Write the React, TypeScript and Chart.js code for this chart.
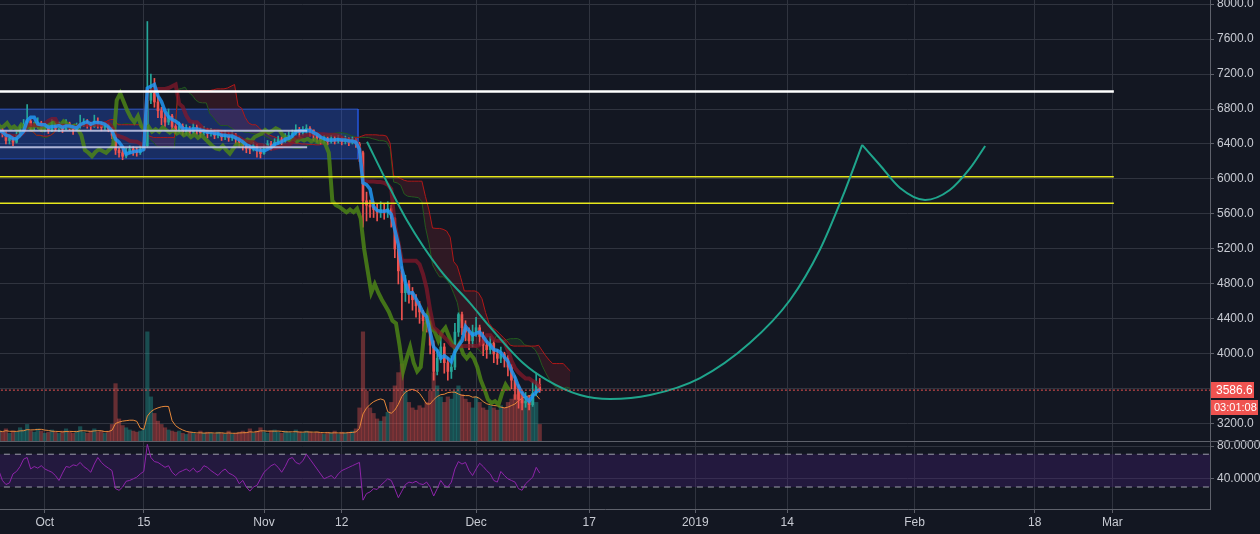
import React, { useEffect, useRef } from 'react';
import { Chart, registerables } from 'chart.js';

Chart.register(...registerables);

// ---- time: days counted from 1 Oct 2018, 12h candles ----
const firstDay = -6.5;
const candleStep = 0.5;
const ichimokuShift = (26 * 4) / 24; // 26 four-hour periods

const closes = [
  6560, 6520, 6440, 6470, 6420, 6500, 6590, 6620, 6660, 6590,
  6600, 6640, 6580, 6600, 6560, 6620, 6580, 6600, 6570, 6630,
  6590, 6560, 6600, 6620, 6650, 6630, 6600, 6660, 6630, 6590,
  6610, 6570, 6500, 6330, 6300, 6260, 6310, 6340, 6320, 6300,
  6340, 6380, 6900, 6980, 6880, 6780, 6700, 6650, 6720, 6600,
  6560, 6600, 6540, 6570, 6540, 6590, 6560, 6530, 6560, 6520,
  6540, 6500, 6520, 6480, 6510, 6470, 6500, 6460, 6420, 6380,
  6350, 6340, 6380, 6330, 6290, 6350, 6400, 6380, 6420, 6450,
  6430, 6480, 6500, 6520, 6560, 6530, 6550, 6580, 6560, 6500,
  6470, 6440, 6460, 6430, 6460, 6440, 6460, 6430, 6450, 6420,
  6440, 6400, 6300, 5750, 5700, 5680, 5650, 5620, 5650, 5620,
  5660, 5550, 5200, 4950, 4700, 4800, 4700, 4620, 4550, 4480,
  4380, 4350, 4100, 3800, 3950, 4080, 3900, 3800, 3850, 4250,
  4450, 4300, 4250, 4150, 4250, 4300, 4200, 4100, 4050, 4120,
  4000, 3950, 4000, 3950, 3850, 3700, 3600, 3480, 3440, 3460,
  3420, 3550, 3650, 3586.6,
];
const highs = [
  6600, 6580, 6540, 6500, 6490, 6540, 6620, 6680, 6850, 6680,
  6650, 6700, 6660, 6640, 6620, 6680, 6640, 6650, 6620, 6680,
  6650, 6610, 6640, 6730, 6690, 6680, 6650, 6730, 6700, 6650,
  6640, 6630, 6590, 6510, 6350, 6340, 6350, 6380, 6370, 6360,
  6380, 6420, 7800, 7200, 7150, 6950, 6820, 6760, 6800, 6740,
  6620, 6650, 6630, 6620, 6600, 6640, 6620, 6590, 6600, 6580,
  6580, 6560, 6560, 6540, 6550, 6530, 6540, 6520, 6480, 6450,
  6400, 6390, 6420, 6400, 6350, 6390, 6440, 6430, 6460, 6490,
  6480, 6520, 6540, 6560, 6620, 6590, 6600, 6620, 6600, 6560,
  6520, 6490, 6500, 6480, 6500, 6490, 6500, 6480, 6490, 6470,
  6480, 6460, 6420, 6320, 5850, 5760, 5740, 5720, 5740, 5720,
  5740, 5700, 5560, 5250, 5000, 4900, 4840, 4760, 4680, 4600,
  4500, 4460, 4380, 4150, 4050, 4200, 4120, 3960, 3980, 4350,
  4470, 4480, 4380, 4300, 4330, 4420, 4330, 4250, 4150, 4200,
  4150, 4050, 4080, 4020, 3980, 3880, 3750, 3650, 3560, 3560,
  3520, 3680, 3780, 3720,
];
const lows = [
  6500, 6480, 6400, 6400, 6380, 6410, 6480, 6560, 6590, 6560,
  6560, 6580, 6540, 6540, 6520, 6540, 6550, 6540, 6530, 6560,
  6560, 6510, 6550, 6580, 6600, 6580, 6560, 6590, 6580, 6550,
  6560, 6540, 6460, 6280, 6250, 6220, 6240, 6290, 6270, 6260,
  6280, 6320, 6360, 6860, 6820, 6700, 6620, 6600, 6620, 6560,
  6520, 6530, 6500, 6510, 6500, 6520, 6510, 6480, 6500, 6470,
  6490, 6460, 6470, 6440, 6450, 6430, 6440, 6400, 6360, 6330,
  6300, 6290, 6320, 6250, 6240, 6280, 6340, 6330, 6360, 6400,
  6390, 6420, 6460, 6480, 6500, 6480, 6500, 6520, 6490, 6440,
  6420, 6400, 6410, 6390, 6410, 6400, 6410, 6390, 6400, 6380,
  6400, 6360, 6200, 5450, 5520, 5560, 5560, 5520, 5560, 5540,
  5560, 5450, 5100, 4800, 4390, 4600, 4580, 4500, 4420, 4350,
  4260, 4250, 4000, 3700, 3760, 3900, 3780, 3700, 3720, 3820,
  4200, 4220, 4150, 4050, 4080, 4200, 4100, 3980, 3950, 4000,
  3900, 3880, 3900, 3850, 3750, 3600, 3480, 3380, 3360, 3390,
  3360, 3400, 3520, 3560,
];
const volumes = [
  90, 80, 110, 70, 90, 80, 120, 100, 150, 90,
  80, 110, 90, 70, 80, 100, 80, 70, 90, 110,
  80, 70, 90, 130, 80, 70, 90, 110, 80, 90,
  70, 90, 150, 520, 200, 140, 120, 100, 90, 80,
  90, 110, 990, 400, 250, 180, 150, 120, 100, 90,
  80, 90, 70, 60, 80, 70, 60, 90, 70, 80,
  70, 60, 80, 70, 60, 90, 60, 70, 80, 90,
  80, 110, 70, 90, 120, 80, 70, 90, 100, 80,
  70, 90, 80, 70, 100, 80, 70, 90, 80, 70,
  80, 70, 60, 80, 70, 90, 60, 80, 70, 80,
  90, 110, 300, 990, 450, 300, 250, 200, 180, 220,
  260, 350, 500, 620, 700, 450, 350, 300, 280, 320,
  300, 350, 450, 620, 500, 400, 350, 400, 380, 450,
  500, 420, 380, 350, 300, 400, 350, 300, 280, 320,
  300, 280, 320, 300, 350, 380, 420, 500, 450, 400,
  380, 420, 350, 150,
];
const rsiValues = [
  50, 38, 33, 35, 46, 49, 55, 64, 66, 52,
  55, 53, 56, 52, 50, 48, 44, 38, 47, 55,
  54, 57, 56, 60, 55, 52, 48, 58, 66, 60,
  56, 53, 50, 28, 26, 30, 37, 38, 40, 42,
  46, 49, 82, 66, 61, 60, 57, 54, 56, 48,
  44, 48, 50, 52, 49, 53, 48, 50, 56, 54,
  50, 47, 44, 49, 52, 47, 45, 42, 34, 38,
  30, 25, 30, 32, 40, 48, 52, 56, 58, 54,
  48, 55, 64, 66, 60, 58, 62, 70, 64, 58,
  52, 46, 40, 42, 44, 40, 46, 50, 52, 54,
  56, 58, 60, 14, 22, 24, 28, 27, 32, 36,
  40, 38, 28, 17, 25, 33, 36, 35, 37, 34,
  33, 36, 30, 19, 28, 38, 32, 30, 36, 52,
  61, 58, 60, 50, 44, 52, 59, 55, 50, 46,
  38, 36, 49, 44, 40, 38, 36, 28, 26, 34,
  38, 42, 54, 47,
];

// x-axis ticks (days from 1 Oct 2018)
const tickDays = [0, 14, 31, 42, 61, 77, 92, 105, 123, 140, 151];
const tickLabels = ['Oct', '15', 'Nov', '12', 'Dec', '17', '2019', '14', 'Feb', '18', 'Mar'];
const priceTicks = [3200, 3600, 4000, 4400, 4800, 5200, 5600, 6000, 6400, 6800, 7200, 7600, 8000];
const rsiTicks = [40, 80];
const rsiBands = [70, 30];

const lastPrice = 3586.6;
const lastPriceLabel = '3586.6';
const countdownLabel = '03:01:08';

// drawings
const whiteLevel = 7000;
const yellowLevels = [6027, 5722];
const levelsEndDay = 151.2;
const boxTop = 6800;
const boxBottom = 6229;
const boxEndDay = 44.3;
const innerLevels = [6552, 6362];
const innerEndDay = 37.1;
const cupDays = [45.57, 48.36, 51.19, 55.9, 60.14, 62.97, 67.64, 71.03, 75.7, 79.94, 85.6, 92.67, 99.7, 105.4, 109.6, 113.2, 115.6];
const cupPrices = [6426, 5969, 5531, 4960, 4582, 4308, 3897, 3702, 3531, 3485, 3531, 3725, 4125, 4617, 5188, 5874, 6389];
const handleDays = [115.6, 118.1, 120.96, 124.5, 128.0, 130.9, 133.0];
const handlePrices = [6389, 6160, 5897, 5760, 5874, 6126, 6377];

// view ranges
const X_MIN = -6.34;
const X_MAX = 164.8;
const P_MIN = 3005;
const P_MAX = 8046;
const R_MIN = 3.2;
const R_MAX = 86.1;
const V_MAX = 4000;
const V_MIN = -617;

const GRID = '#30343f';
const AXIS = '#5e616b';
const TEXT = '#c8cbd3';
const UP = '#26a69a';
const DOWN = '#ef5350';
const FONT = '"Liberation Sans", Arial, sans-serif';

const days = closes.map((_, i) => firstDay + i * candleStep);
const opens = closes.map((c, i) => (i === 0 ? c : closes[i - 1]));

function midRange(i: number, n: number): number {
  let hi = -Infinity;
  let lo = Infinity;
  for (let j = Math.max(0, i - n + 1); j <= i; j++) {
    hi = Math.max(hi, highs[j]);
    lo = Math.min(lo, lows[j]);
  }
  return (hi + lo) / 2;
}

function sma(arr: number[], n: number): number[] {
  return arr.map((_, i) => {
    const s = Math.max(0, i - n + 1);
    let sum = 0;
    for (let j = s; j <= i; j++) sum += arr[j];
    return sum / (i - s + 1);
  });
}

function hLine(y: number, x0: number, x1: number) {
  return [{ x: x0, y }, { x: x1, y }];
}

function buildDatasets(): any[] {
  const tenkan = days.map((d, i) => ({ x: d, y: midRange(i, 3) }));
  const kijun = days.map((d, i) => ({ x: d, y: midRange(i, 9) }));
  const spanA = days.map((d, i) => ({ x: d + ichimokuShift, y: (midRange(i, 3) + midRange(i, 9)) / 2 }));
  const spanB = days.map((d, i) => ({ x: d + ichimokuShift, y: midRange(i, 17) }));
  const chikou = days.map((d, i) => ({ x: d - ichimokuShift, y: closes[i] }));
  const volMa = sma(volumes, 7);
  const isUp = closes.map((c, i) => c >= opens[i]);

  const line = (extra: any) => ({
    type: 'line',
    yAxisID: 'y',
    pointRadius: 0,
    borderWidth: 1,
    fill: false,
    tension: 0,
    ...extra,
  });

  const ds: any[] = [
    // rectangle drawing
    line({
      data: hLine(boxTop, X_MIN - 1, boxEndDay),
      borderWidth: 0,
      backgroundColor: 'rgba(41,98,255,0.30)',
      fill: { target: { value: boxBottom } },
    }),
    line({
      data: [
        { x: X_MIN - 1, y: boxTop },
        { x: boxEndDay, y: boxTop },
        { x: boxEndDay, y: boxBottom },
        { x: X_MIN - 1, y: boxBottom },
      ],
      borderColor: 'rgba(41,98,255,0.55)',
    }),
    // cloud
    line({ data: spanA, borderColor: '#1d5a1f' }),
    line({
      data: spanB,
      borderColor: '#b01818',
      fill: { target: '-1', above: 'rgba(200,40,50,0.16)', below: 'rgba(67,160,71,0.14)' },
    }),
    // volume
    {
      type: 'bar',
      yAxisID: 'vol',
      data: days.map((d, i) => ({ x: d, y: volumes[i] })),
      backgroundColor: isUp.map((u) => (u ? 'rgba(38,166,154,0.38)' : 'rgba(239,83,80,0.38)')),
      barPercentage: 1,
      categoryPercentage: 1,
      grouped: false,
    },
    line({ yAxisID: 'vol', data: days.map((d, i) => ({ x: d, y: volMa[i] })), borderColor: '#e8893a' }),
    // candles
    {
      type: 'bar',
      yAxisID: 'y',
      data: days.map((d, i) => ({ x: d, y: [lows[i], highs[i]] })),
      backgroundColor: isUp.map((u) => (u ? UP : DOWN)),
      barThickness: 1,
      grouped: false,
    },
    {
      type: 'bar',
      yAxisID: 'y',
      data: days.map((d, i) => ({ x: d, y: [opens[i], closes[i]] })),
      backgroundColor: isUp.map((u) => (u ? UP : DOWN)),
      barThickness: 2,
      minBarLength: 1,
      grouped: false,
    },
    // ichimoku lines
    line({ data: chikou, borderColor: 'rgba(78,135,22,0.82)', borderWidth: 4 }),
    line({ data: kijun, borderColor: 'rgba(135,24,42,0.72)', borderWidth: 4 }),
    line({ data: tenkan, borderColor: 'rgba(33,150,243,0.85)', borderWidth: 3.5 }),
    // horizontal drawings
    ...innerLevels.map((lv) =>
      line({ data: hLine(lv, X_MIN - 1, innerEndDay), borderColor: 'rgba(200,204,235,0.85)', borderWidth: 2 }),
    ),
    ...yellowLevels.map((lv) =>
      line({ data: hLine(lv, X_MIN - 1, levelsEndDay), borderColor: '#e8e81c', borderWidth: 1.5 }),
    ),
    line({ data: hLine(whiteLevel, X_MIN - 1, levelsEndDay), borderColor: '#ffffff', borderWidth: 2.5 }),
    // cup & handle
    line({
      data: cupDays.map((d, i) => ({ x: d, y: cupPrices[i] })),
      borderColor: '#1fa58c',
      borderWidth: 2,
      cubicInterpolationMode: 'monotone',
    }),
    line({
      data: handleDays.map((d, i) => ({ x: d, y: handlePrices[i] })),
      borderColor: '#1fa58c',
      borderWidth: 2,
      cubicInterpolationMode: 'monotone',
    }),
    // last price
    line({ data: hLine(lastPrice, X_MIN - 1, X_MAX + 1), borderColor: '#ef5350', borderDash: [2, 2] }),
    // RSI pane
    line({
      yAxisID: 'rsi',
      data: hLine(rsiBands[0], X_MIN - 1, X_MAX + 1),
      borderWidth: 0,
      backgroundColor: 'rgba(70,30,120,0.32)',
      fill: { target: { value: rsiBands[1] } },
    }),
    ...rsiBands.map((b) =>
      line({
        yAxisID: 'rsi',
        data: hLine(b, X_MIN - 1, X_MAX + 1),
        borderColor: 'rgba(200,203,212,0.75)',
        borderDash: [6, 5],
      }),
    ),
    line({ yAxisID: 'rsi', data: days.map((d, i) => ({ x: d, y: rsiValues[i] })), borderColor: '#8e24aa' }),
  ];
  ds.forEach((d, i) => {
    d.order = -i;
  });
  return ds;
}

const overlayPlugin = {
  id: 'overlay',
  afterDraw(chart: any) {
    const ctx = chart.ctx;
    const y = chart.scales.y;
    ctx.save();
    ctx.strokeStyle = AXIS;
    ctx.lineWidth = 1;
    ctx.beginPath();
    ctx.moveTo(0, Math.round(y.bottom) + 0.5);
    ctx.lineTo(chart.width, Math.round(y.bottom) + 0.5);
    ctx.stroke();

    const py = Math.round(y.getPixelForValue(lastPrice));
    const left = Math.round(y.left) + 1;
    ctx.fillStyle = '#ef5350';
    ctx.fillRect(left, py - 8, 43, 16);
    ctx.fillRect(left, py + 10, 47, 15);
    ctx.fillStyle = '#ffffff';
    ctx.textBaseline = 'middle';
    ctx.textAlign = 'left';
    ctx.font = `12px ${FONT}`;
    ctx.fillText(lastPriceLabel, left + 5, py + 0.5);
    ctx.font = `11px ${FONT}`;
    ctx.fillText(countdownLabel, left + 3, py + 18);
    ctx.restore();
  },
};

export default function App() {
  const ref = useRef<HTMLCanvasElement>(null);
  useEffect(() => {
    const canvas = ref.current;
    if (!canvas) return;
    Chart.defaults.font.family = FONT;
    Chart.defaults.font.size = 12;
    const chart = new Chart(canvas, {
      type: 'line',
      data: { datasets: buildDatasets() },
      options: {
        responsive: false,
        animation: false,
        devicePixelRatio: 1,
        events: [],
        layout: { padding: 0 },
        plugins: { legend: { display: false }, tooltip: { enabled: false } },
        scales: {
          x: {
            type: 'linear',
            min: X_MIN,
            max: X_MAX,
            offset: false,
            afterBuildTicks: (s: any) => {
              s.ticks = tickDays.map((v) => ({ value: v }));
            },
            afterFit: (s: any) => {
              s.height = 25;
              s.paddingLeft = 0;
              s.paddingRight = 0;
            },
            ticks: {
              callback: (_v: any, i: number) => tickLabels[i],
              color: TEXT,
              padding: 2,
              maxRotation: 0,
              autoSkip: false,
              font: { size: 12 },
            },
            grid: { color: GRID, tickLength: 4, tickColor: AXIS, offset: false },
            border: { color: AXIS },
          },
          y: {
            type: 'linear',
            position: 'right',
            stack: 'panes',
            stackWeight: 441,
            min: P_MIN,
            max: P_MAX,
            afterBuildTicks: (s: any) => {
              s.ticks = priceTicks.map((v) => ({ value: v }));
            },
            afterFit: (s: any) => {
              s.width = 50;
              s.paddingTop = 0;
              s.paddingBottom = 0;
            },
            ticks: { callback: (v: any) => Number(v).toFixed(1), color: TEXT, padding: 3 },
            grid: { color: GRID, tickLength: 4, tickColor: AXIS },
            border: { color: AXIS },
          },
          rsi: {
            type: 'linear',
            position: 'right',
            stack: 'panes',
            stackWeight: 68,
            min: R_MIN,
            max: R_MAX,
            afterBuildTicks: (s: any) => {
              s.ticks = rsiTicks.map((v) => ({ value: v }));
            },
            afterFit: (s: any) => {
              s.width = 50;
              s.paddingTop = 0;
              s.paddingBottom = 0;
            },
            ticks: { callback: (v: any) => Number(v).toFixed(4), color: TEXT, padding: 3 },
            grid: { color: GRID, tickLength: 4, tickColor: AXIS },
            border: { color: AXIS },
          },
          vol: {
            type: 'linear',
            position: 'right',
            display: false,
            min: V_MIN,
            max: V_MAX,
          },
        },
      } as any,
      plugins: [overlayPlugin],
    });
    return () => chart.destroy();
  }, []);
  return (
    <div style={{ position: 'fixed', left: 0, top: 0, width: 1260, height: 534, background: '#131722' }}>
      <canvas ref={ref} width={1260} height={534} style={{ display: 'block', width: 1260, height: 534 }} />
    </div>
  );
}
